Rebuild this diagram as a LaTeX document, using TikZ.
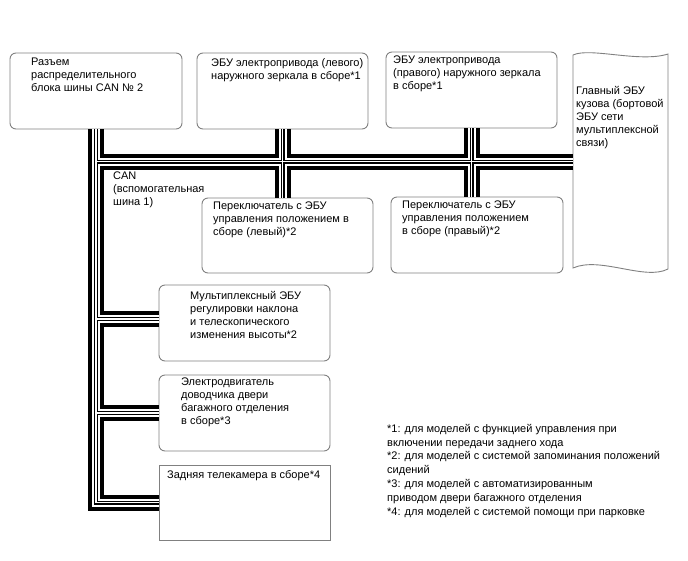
\documentclass[tikz,border=0pt]{standalone}
\usepackage{fontspec}
\setmainfont{Liberation Sans}
\usetikzlibrary{calc}
\definecolor{boxgray}{RGB}{128,128,128}
\tikzset{
  box/.style={draw=boxgray, line width=0.9pt, rounded corners=6pt, inner sep=0pt},
  sqbox/.style={draw=boxgray, line width=0.9pt, inner sep=0pt},
  txt/.style={anchor=north west, inner sep=0pt, align=left, font=\fontsize{11}{13}\selectfont},
  fntxt/.style={anchor=north west, inner sep=0pt, align=left, font=\fontsize{11}{13.8}\selectfont},
  outline/.style={draw=boxgray, line width=0.9pt}
}
\begin{document}
\begin{tikzpicture}[x=1pt,y=-1pt]
\useasboundingbox (0,0) rectangle (688,560);
% boxes
\node[box, minimum width=172pt, minimum height=76pt] (b1) at (96,91) {};
\node[box, minimum width=171pt, minimum height=76pt] (b2) at (282.5,91) {};
\node[box, minimum width=171pt, minimum height=76pt] (b3) at (471.5,90) {};
\node[box, minimum width=171pt, minimum height=75pt] (sw1) at (287.5,235.5) {};
\node[box, minimum width=172pt, minimum height=76pt] (sw2) at (477,235) {};
\node[box, minimum width=171pt, minimum height=76pt] (mux) at (244.5,323) {};
\node[box, minimum width=171pt, minimum height=76pt] (mot) at (244.5,413) {};
\node[sqbox, minimum width=171pt, minimum height=75pt] (cam) at (244.5,502.5) {};
% main body ECU (wavy outline)
\draw[outline] (573,55) .. controls (590,47) and (640,63) .. (668,54) -- (668,269)
  .. controls (645,281) and (600,256) .. (573,268) -- cycle;
\coordinate (mw) at (573,161.5);
\coordinate (muxj) at ($(mux.west)+(0,-4)$);
% texts
\node[txt] (t1) at (31,58) {Разъем\\распределительного\\блока шины CAN № 2};
\node[txt] (t2) at (211,58) {ЭБУ электропривода (левого)\\наружного зеркала в сборе*1};
\node[txt] (t3) at (393,56) {ЭБУ электропривода\\(правого) наружного зеркала\\в сборе*1};
\node[txt] (tm) at (576,86) {Главный ЭБУ\\кузова (бортовой\\ЭБУ сети\\мультиплексной\\связи)};
\node[txt] (tcan) at (113,172) {CAN\\(вспомогательная\\шина 1)};
\node[txt] (ts1) at (213,202) {Переключатель с ЭБУ\\управления положением в\\сборе (левый)*2};
\node[txt] (ts2) at (402,201) {Переключатель с ЭБУ\\управления положением\\в сборе (правый)*2};
\node[txt] (tmux) at (190,291) {Мультиплексный ЭБУ\\регулировки наклона\\и телескопического\\изменения высоты*2};
\node[txt] (tmot) at (181,378) {Электродвигатель\\доводчика двери\\багажного отделения\\в сборе*3};
\node[txt] (tcam) at (167,470) {Задняя телекамера в сборе*4};
\node[fntxt] (fn) at (387,424) {*1: для моделей с функцией управления при\\включении передачи заднего хода\\*2: для моделей с системой запоминания положений\\сидений\\*3: для моделей с автоматизированным\\приводом двери багажного отделения\\*4: для моделей с системой помощи при парковке};
% CAN bus (layered double line)
\foreach \w/\c in {16/black,8/white,4/black,1.4/white}{
  \draw[line width=\w pt, draw=\c, line join=miter]
    (b1.south) -- (b1.south |- cam.west) -- (cam.west)
    (b1.south |- mw) -- (mw)
    (b2.south) -- (b2.south |- sw1.north)
    (b3.south) -- (b3.south |- sw2.north)
    (b1.south |- muxj) -- (muxj)
    (b1.south |- mot.west) -- (mot.west);
}
\end{tikzpicture}
\end{document}
